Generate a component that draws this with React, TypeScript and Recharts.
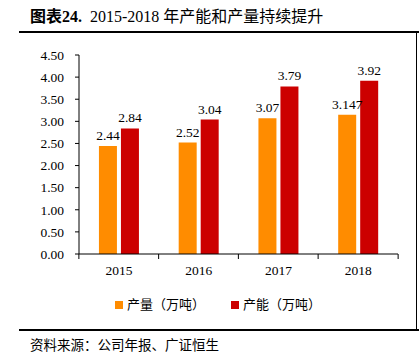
import React from 'react';
import { BarChart, Bar, XAxis, YAxis, Legend, LabelList } from 'recharts';

const years = ['2015', '2016', '2017', '2018'];
const output = [2.44, 2.52, 3.07, 3.147];
const capacity = [2.84, 3.04, 3.79, 3.92];
const yTicks = [0, 0.5, 1, 1.5, 2, 2.5, 3, 3.5, 4, 4.5];

const data = years.map((y, i) => ({ year: y, output: output[i], capacity: capacity[i] }));

const SERIF = "'Liberation Serif', 'Times New Roman', serif";
const CJK = "'Noto Sans CJK SC', sans-serif";

const XTick = (props: any) => {
  const { x, y, payload, index, visibleTicksCount } = props;
  const half = 40;
  return (
    <g>
      <line x1={x - half} y1={y - 8} x2={x - half} y2={y - 3} stroke="#000" strokeWidth={1} />
      {index === visibleTicksCount - 1 && (
        <line x1={x + half} y1={y - 8} x2={x + half} y2={y - 3} stroke="#000" strokeWidth={1} />
      )}
      <text x={x} y={y + 13} textAnchor="middle" fontFamily={SERIF} fontSize={13.5} fill="#000">
        {payload.value}
      </text>
    </g>
  );
};

export default function App() {
  return (
    <div style={{ position: 'fixed', left: 0, top: 0, width: 419, height: 360, background: '#fff', overflow: 'hidden' }}>
      <div style={{
        position: 'absolute', left: 30, top: 3, fontSize: 16, color: '#000', whiteSpace: 'nowrap',
      }}>
        <span style={{ fontFamily: CJK, fontWeight: 700 }}>图表</span>
        <span style={{ fontFamily: SERIF, fontWeight: 700 }}>24.</span>
        <span style={{ fontFamily: SERIF }}>&nbsp; 2015-2018 </span>
        <span style={{ fontFamily: CJK }}>年产能和产量持续提升</span>
      </div>
      <div style={{ position: 'absolute', left: 19, top: 31, width: 400, height: 2, background: '#000' }} />
      <div style={{ position: 'absolute', left: 416, top: 32, width: 1, height: 298, background: '#000' }} />
      <div style={{ position: 'absolute', left: 19, top: 329, width: 400, height: 2, background: '#000' }} />
      <div style={{
        position: 'absolute', left: 30, top: 334, fontSize: 13.5, fontFamily: CJK, color: '#000', whiteSpace: 'nowrap',
      }}>
        资料来源：公司年报、广证恒生
      </div>

      <div style={{ position: 'absolute', left: 0, top: 0 }}>
        <BarChart
          width={419}
          height={320}
          data={data}
          margin={{ top: 55, right: 21, left: 0, bottom: 22 }}
          barCategoryGap="25%"
          barGap={4}
        >
          <XAxis
            dataKey="year"
            axisLine={{ stroke: '#000', strokeWidth: 1 }}
            tickLine={false}
            tick={<XTick />}
            height={25}
            interval={0}
          />
          <YAxis
            domain={[0, 4.5]}
            ticks={yTicks}
            width={79}
            axisLine={{ stroke: '#000', strokeWidth: 1 }}
            tickLine={{ stroke: '#000' }}
            tickSize={4}
            tickMargin={11}
            tickFormatter={(v: number) => v.toFixed(2)}
            tick={{ fontFamily: SERIF, fontSize: 13.5, fill: '#000' }}
            interval={0}
          />
          <Legend
            iconType="square"
            iconSize={8}
            itemSorter={(item: any) => (item.dataKey === 'output' ? 0 : 1)}
            wrapperStyle={{ top: 294, left: 32, fontFamily: CJK, fontSize: 13 }}
            formatter={(name: any) => <span style={{ color: '#000', marginRight: 16 }}>{name}</span>}
          />
          <Bar dataKey="output" name="产量（万吨）" fill="#FF8C00" isAnimationActive={false}>
            <LabelList dataKey="output" position="top" offset={6} fill="#000" fontFamily={SERIF} fontSize={13.5} />
          </Bar>
          <Bar dataKey="capacity" name="产能（万吨）" fill="#CC0000" isAnimationActive={false}>
            <LabelList dataKey="capacity" position="top" offset={6} fill="#000" fontFamily={SERIF} fontSize={13.5} />
          </Bar>
        </BarChart>
      </div>
    </div>
  );
}
